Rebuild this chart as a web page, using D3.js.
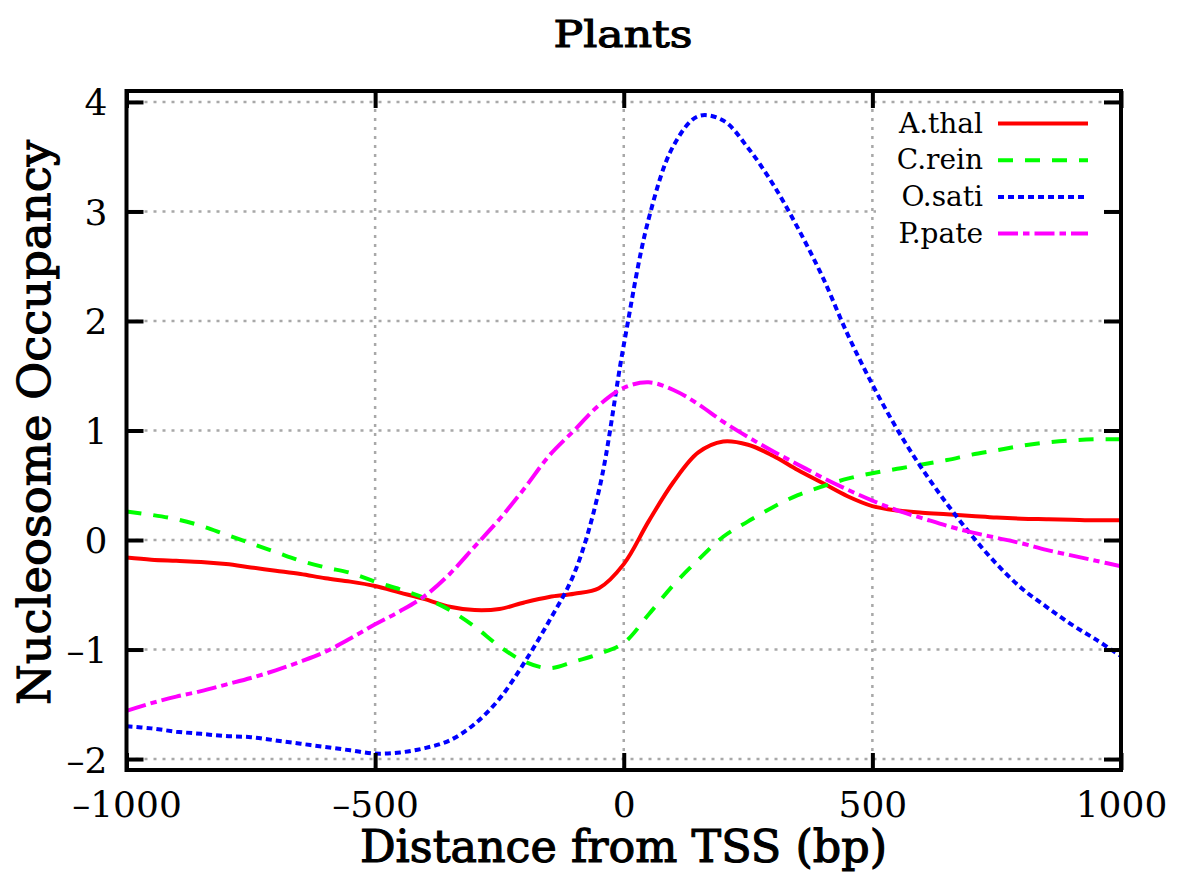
<!DOCTYPE html>
<html>
<head>
<meta charset="utf-8">
<script src="https://cdn.jsdelivr.net/npm/d3@7"></script>
<style>
  html, body { margin: 0; padding: 0; background: #fff; }
  svg text { font-family: "DejaVu Serif", "Liberation Serif", serif; fill: #000; }
</style>
</head>
<body>
<div id="chart"></div>
<script>
// distance from TSS (bp), shared by all series
const positions = [-1000, -950, -900, -850, -800, -750, -700, -650, -600, -550, -500,
    -450, -400, -350, -300, -250, -200, -150, -100, -50, 0,
    50, 100, 150, 200, 250, 300, 350, 400, 450, 500,
    550, 600, 650, 700, 750, 800, 850, 900, 950, 1000];

const athal = [-0.16, -0.18, -0.19, -0.20, -0.22, -0.25, -0.28, -0.31, -0.35, -0.38, -0.42,
    -0.48, -0.54, -0.61, -0.64, -0.63, -0.57, -0.52, -0.49, -0.44, -0.22,
    0.17, 0.53, 0.80, 0.90, 0.87, 0.77, 0.64, 0.52, 0.40, 0.31,
    0.27, 0.25, 0.235, 0.22, 0.205, 0.195, 0.19, 0.185, 0.18, 0.18];

const crein = [0.26, 0.23, 0.19, 0.13, 0.05, -0.03, -0.11, -0.19, -0.25, -0.30, -0.38,
    -0.45, -0.53, -0.64, -0.79, -0.97, -1.11, -1.17, -1.11, -1.04, -0.94,
    -0.68, -0.41, -0.18, 0.03, 0.17, 0.30, 0.41, 0.49, 0.56, 0.61,
    0.65, 0.69, 0.73, 0.78, 0.82, 0.86, 0.89, 0.91, 0.92, 0.92];

const osati = [-1.70, -1.72, -1.75, -1.77, -1.79, -1.80, -1.83, -1.86, -1.89, -1.92, -1.95,
    -1.94, -1.90, -1.83, -1.68, -1.45, -1.12, -0.74, -0.31, 0.45, 1.78,
    2.93, 3.60, 3.87, 3.83, 3.58, 3.25, 2.85, 2.40, 1.88, 1.42,
    1.01, 0.65, 0.33, 0.04, -0.22, -0.44, -0.61, -0.77, -0.91, -1.06];

const ppate = [-1.56, -1.49, -1.43, -1.38, -1.32, -1.26, -1.19, -1.11, -1.02, -0.90, -0.77,
    -0.65, -0.51, -0.31, -0.06, 0.19, 0.47, 0.77, 1.00, 1.23, 1.39,
    1.44, 1.37, 1.24, 1.08, 0.94, 0.81, 0.69, 0.57, 0.46, 0.36,
    0.27, 0.20, 0.13, 0.07, 0.02, -0.03, -0.09, -0.14, -0.19, -0.24];

const seriesNames = ['A.thal', 'C.rein', 'O.sati', 'P.pate'];
const xTicks = [-1000, -500, 0, 500, 1000];
const yTicks = [-2, -1, 0, 1, 2, 3, 4];

const series = [
    { name: seriesNames[0], values: athal, color: '#ff0000', dash: null },
    { name: seriesNames[1], values: crein, color: '#00ff00', dash: '15,12' },
    { name: seriesNames[2], values: osati, color: '#0000ff', dash: '6,4' },
    { name: seriesNames[3], values: ppate, color: '#ff00ff', dash: '20,5,6.5,5' }
];

const W = 1185, H = 875;
const plot = { left: 126.5, right: 1121, top: 91, bottom: 770 };

const svg = d3.select('#chart').append('svg')
    .attr('width', W).attr('height', H);

const x = d3.scaleLinear().domain([-1000, 1000]).range([plot.left, plot.right]);
const y = d3.scaleLinear().domain([-2.1, 4.1]).range([plot.bottom, plot.top]);

svg.append('defs').append('clipPath').attr('id', 'clip')
    .append('rect')
    .attr('x', plot.left).attr('y', plot.top)
    .attr('width', plot.right - plot.left).attr('height', plot.bottom - plot.top);

// grid
const grid = svg.append('g').attr('class', 'grid')
    .style('stroke', '#a8a8a8').style('stroke-width', 2.5).style('stroke-dasharray', '3,6');
grid.selectAll('.gx').data(xTicks.slice(1, -1)).join('line')
    .attr('x1', d => x(d)).attr('x2', d => x(d))
    .attr('y1', plot.top).attr('y2', plot.bottom);
grid.selectAll('.gy').data(yTicks).join('line')
    .attr('x1', plot.left).attr('x2', plot.right)
    .attr('y1', d => y(d)).attr('y2', d => y(d));

// curves
const line = d3.line()
    .x((d, i) => x(positions[i]))
    .y(d => y(d))
    .curve(d3.curveCatmullRom.alpha(0.5));

const curves = svg.append('g').attr('clip-path', 'url(#clip)');
series.forEach(s => {
    curves.append('path')
        .datum(s.values)
        .attr('d', line)
        .style('fill', 'none')
        .style('stroke', s.color)
        .style('stroke-width', 4)
        .style('stroke-dasharray', s.dash);
});

// axes, ticks pointing inward on all four sides
const tickLen = 17;
const fmt = d => d < 0 ? '\u2013' + Math.abs(d) : d;
const axisStyle = g => {
    g.select('.domain').remove();
    g.selectAll('.tick line').style('stroke', '#000').style('stroke-width', 4);
};

svg.append('g')
    .attr('transform', `translate(0,${plot.bottom})`)
    .call(d3.axisBottom(x).tickValues(xTicks).tickSize(-tickLen).tickFormat(fmt))
    .call(axisStyle)
    .call(g => g.selectAll('.tick text').attr('y', 47).attr('dy', 0)
        .style('font-size', '36px').style('font-family', '"DejaVu Serif", serif'));

svg.append('g')
    .attr('transform', `translate(0,${plot.top})`)
    .call(d3.axisTop(x).tickValues(xTicks).tickSize(-tickLen).tickFormat(''))
    .call(axisStyle);

svg.append('g')
    .attr('transform', `translate(${plot.left},0)`)
    .call(d3.axisLeft(y).tickValues(yTicks).tickSize(-tickLen).tickFormat(fmt))
    .call(axisStyle)
    .call(g => g.selectAll('.tick text').attr('x', -19).attr('dy', '0.36em')
        .style('font-size', '36px').style('font-family', '"DejaVu Serif", serif'));

svg.append('g')
    .attr('transform', `translate(${plot.right},0)`)
    .call(d3.axisRight(y).tickValues(yTicks).tickSize(-tickLen).tickFormat(''))
    .call(axisStyle);

// frame
svg.append('rect')
    .attr('x', plot.left).attr('y', plot.top)
    .attr('width', plot.right - plot.left).attr('height', plot.bottom - plot.top)
    .style('fill', 'none').style('stroke', '#000').style('stroke-width', 4);

// legend (white box hides the grid behind it)
const legend = svg.append('g').attr('class', 'legend');
legend.append('rect')
    .attr('x', 876).attr('y', 105).attr('width', 226).attr('height', 146)
    .style('fill', '#fff');
const legItems = legend.selectAll('g').data(series).join('g')
    .attr('transform', (d, i) => `translate(0,${123.5 + i * 36.7})`);
legItems.append('text')
    .attr('x', 983).attr('y', 9)
    .attr('text-anchor', 'end')
    .style('font-size', '28px')
    .text(d => d.name);
legItems.append('line')
    .attr('x1', 998).attr('x2', 1088)
    .style('stroke', d => d.color)
    .style('stroke-width', 4)
    .style('stroke-dasharray', d => d.dash);

// title and axis labels (semi-bold look: regular face with a thin outline)
const heavy = sel => sel.style('stroke', '#000').style('stroke-width', 1.1);

svg.append('text')
    .attr('x', 623).attr('y', 47)
    .attr('text-anchor', 'middle')
    .attr('textLength', 139).attr('lengthAdjust', 'spacingAndGlyphs')
    .style('font-size', '38px')
    .call(heavy)
    .text('Plants');

svg.append('text')
    .attr('x', 623.5).attr('y', 862)
    .attr('text-anchor', 'middle')
    .attr('textLength', 527).attr('lengthAdjust', 'spacingAndGlyphs')
    .style('font-size', '44px')
    .call(heavy)
    .text('Distance from TSS (bp)');

svg.append('text')
    .attr('transform', 'translate(50,422.5) rotate(-90)')
    .attr('text-anchor', 'middle')
    .attr('textLength', 565).attr('lengthAdjust', 'spacingAndGlyphs')
    .style('font-size', '44px')
    .call(heavy)
    .text('Nucleosome Occupancy');
</script>
</body>
</html>
